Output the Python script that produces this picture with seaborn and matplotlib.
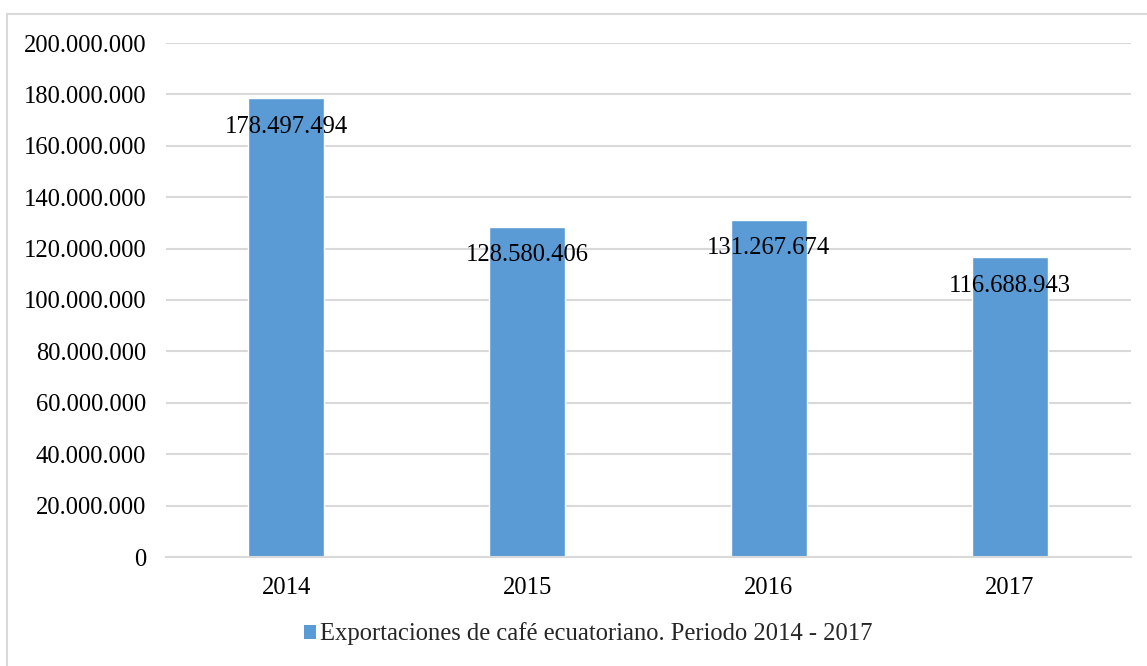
import matplotlib
matplotlib.use("Agg")
import matplotlib.pyplot as plt
import seaborn as sns
import pandas as pd
from matplotlib.patches import Rectangle

years = ["2014", "2015", "2016", "2017"]
values = [178497494, 128580406, 131267674, 116688943]
series_name = "Exportaciones de café ecuatoriano. Periodo 2014 - 2017"
yticks = [0, 20000000, 40000000, 60000000, 80000000, 100000000,
          120000000, 140000000, 160000000, 180000000, 200000000]

def fmt(v):
    return f"{int(v):,}".replace(",", ".")

sns.set_style("white")
plt.rcParams['font.family'] = ['Liberation Serif', 'DejaVu Serif']

FS = 17.7
W, H = 1147, 666
fig = plt.figure(figsize=(W / 100, H / 100), dpi=100)
ax = fig.add_axes([165.5 / W, 109 / H, 965 / W, 514 / H])

df = pd.DataFrame({"year": years, "value": values})
color = "#5B9BD5"
sns.barplot(data=df, x="year", y="value", color=color, width=0.315,
            saturation=1, ax=ax, label=series_name)

ax.set_ylim(0, 200000000)
ax.set_yticks(yticks)
ax.set_yticklabels([fmt(t) for t in yticks])
ax.set_xlabel("")
ax.set_ylabel("")
ax.tick_params(axis='both', length=0, labelsize=FS, colors='black')
ax.tick_params(axis='y', pad=14)
ax.tick_params(axis='x', pad=14.5)
ax.set_xlim(-0.5, 3.5)

ax.grid(axis='y', color='#D9D9D9', linewidth=1.5)
ax.set_axisbelow(True)
for s in ['top', 'right', 'left']:
    ax.spines[s].set_visible(False)
ax.spines['bottom'].set_color('#D9D9D9')
ax.spines['bottom'].set_linewidth(1.5)

for i, v in enumerate(values):
    ax.annotate(fmt(v), xy=(i, v), xytext=(0, -20.5), textcoords='offset points',
                ha='center', va='center', fontsize=FS, color='black')

if ax.get_legend() is not None:
    ax.get_legend().remove()
handles = [Rectangle((0, 0), 1, 1, facecolor=color, edgecolor='none')]
fig.legend(handles, [series_name], loc='center', bbox_to_anchor=(588 / W, 1 - 634 / H),
           frameon=False, fontsize=FS, handlelength=0.5, handleheight=0.5,
           handletextpad=0.15)

border = Rectangle((7.5 / W, -0.1), 1.5, (H - 13.5) / H + 0.1, transform=fig.transFigure,
                   fill=False, edgecolor='#D9D9D9', linewidth=1.5, clip_on=False)
fig.patches.append(border)

fig.savefig("out.png", dpi=100)
